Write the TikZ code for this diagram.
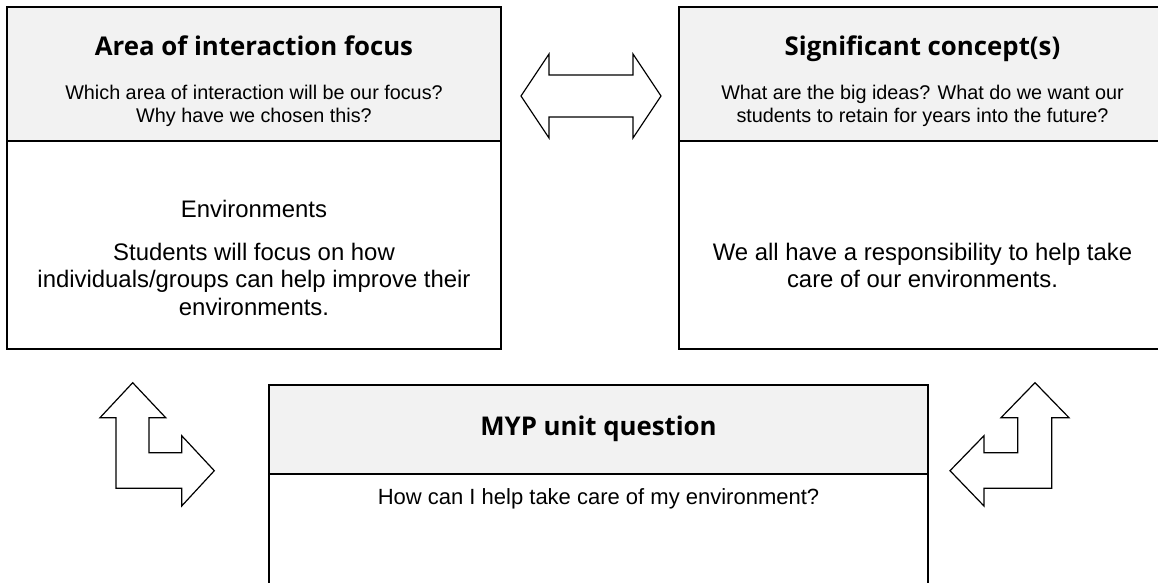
\documentclass[tikz,border=0pt]{standalone}
\usepackage{fontspec}
\setmainfont{Liberation Sans}
\newfontfamily\headfont{Open Sans}
\definecolor{hdr}{HTML}{F2F2F2}
\tikzset{
  hdrbox/.style={draw=black, line width=2pt, fill=hdr, anchor=north west, inner sep=0pt, outer sep=0pt},
  bodybox/.style={draw=black, line width=2pt, fill=white, anchor=north west, inner sep=0pt, outer sep=0pt},
  headtxt/.style={anchor=base, inner sep=0pt, font=\headfont\bfseries\fontsize{25.8}{30}\selectfont},
  subtxt/.style={anchor=base, inner sep=0pt, font=\fontsize{19.8}{23}\selectfont},
  bodytxt/.style={anchor=base, inner sep=0pt, font=\fontsize{23.9}{28}\selectfont},
  blockarrow/.style={draw=black, line width=1.2pt, fill=white, line join=miter}
}
\begin{document}
\begin{tikzpicture}[x=1pt,y=-1pt]
\useasboundingbox (0,0) rectangle (1158,582);
\clip (0,0) rectangle (1158,582);
% box 1
\node[bodybox, minimum width=494pt, minimum height=208pt] (b1) at (7,141) {};
\node[hdrbox, minimum width=494pt, minimum height=134pt] (h1) at (7,7) {};
% box 2
\node[bodybox, minimum width=487pt, minimum height=208pt] (b2) at (679,141) {};
\node[hdrbox, minimum width=487pt, minimum height=134pt] (h2) at (679,7) {};
% box 3
\node[bodybox, minimum width=659pt, minimum height=140pt] (b3) at (269,474) {};
\node[hdrbox, minimum width=659pt, minimum height=89pt] (h3) at (269,385) {};

% texts box 1
\node[headtxt] (t1) at (254,55) {Area of interaction focus};
\node[subtxt] (s1a) at (254,99) {Which area of interaction will be our focus?};
\node[subtxt] (s1b) at (254,122) {Why have we chosen this?};
\node[bodytxt] (e1a) at (254,217) {Environments};
\node[bodytxt] (e1b) at (254,260) {Students will focus on how};
\node[bodytxt] (e1c) at (254,287) {individuals/groups can help improve their};
\node[bodytxt] (e1d) at (254,315) {environments.};
% texts box 2
\node[headtxt] (t2) at (922.5,55) {Significant concept(s)};
\node[subtxt] (s2a) at (922.5,99) {What are the big ideas? What do we want our};
\node[subtxt] (s2b) at (922.5,122) {students to retain for years into the future?};
\node[bodytxt] (e2a) at (922.5,260) {We all have a responsibility to help take};
\node[bodytxt] (e2b) at (922.5,287) {care of our environments.};
% texts box 3
\node[headtxt] (t3) at (598.5,435) {MYP unit question};
\node[bodytxt, font=\fontsize{22}{26}\selectfont] (e3a) at (598.5,504) {How can I help take care of my environment?};

% double arrow between top boxes
\draw[blockarrow] (521,96) -- (549,54) -- (549,75) -- (633,75) -- (633,54) -- (661,96)
  -- (633,138) -- (633,117) -- (549,117) -- (549,138) -- cycle;
% left bent arrow
\draw[blockarrow] (132.7,382.7) -- (165.7,417.7) -- (149,417.7) -- (149,452.7) -- (181.7,452.7)
  -- (181.7,435.7) -- (214.3,470.7) -- (181.7,506) -- (181.7,488.3) -- (116,488.3)
  -- (116,417.7) -- (100,417.7) -- cycle;
% right bent arrow
\draw[blockarrow] (1035,382.7) -- (1069,417.7) -- (1051.7,417.7) -- (1051.7,488.3) -- (984,488.3)
  -- (984,506) -- (950,470.7) -- (984,435.7) -- (984,452.7) -- (1017.7,452.7)
  -- (1017.7,417.7) -- (1001,417.7) -- cycle;
\end{tikzpicture}
\end{document}
